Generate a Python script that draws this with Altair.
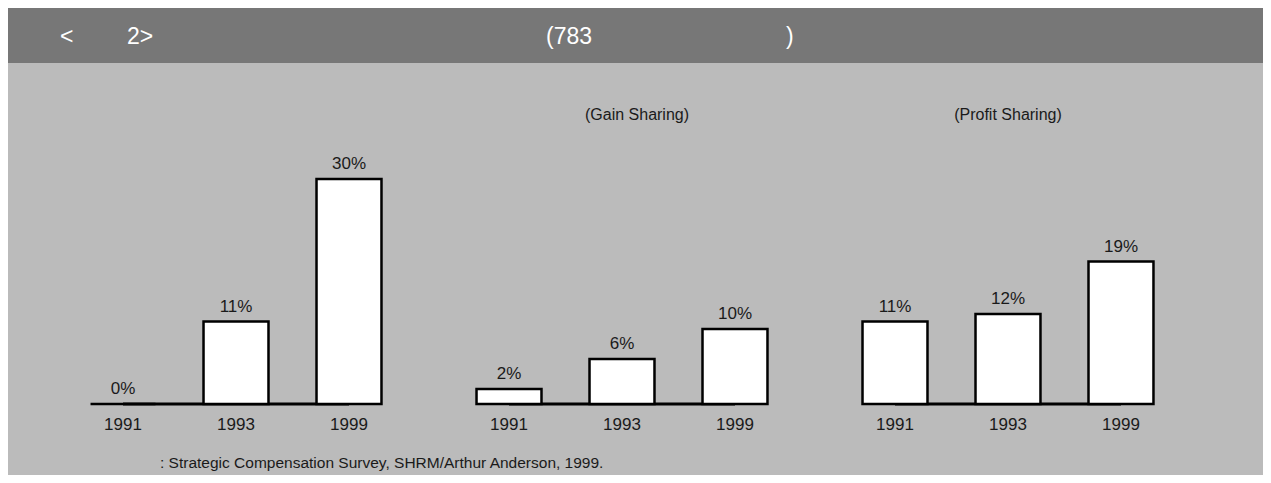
import altair as alt
import pandas as pd

# ---- data ----
panels = ["Panel1", "Gain", "Profit"]
panel_titles = ["", "(Gain Sharing)", "(Profit Sharing)"]
years = ["1991", "1993", "1999"]
panel1_values = [0, 11, 30]
gain_values = [2, 6, 10]
profit_values = [11, 12, 19]

header_left = "<"
header_num = "2>"
header_mid = "(783"
header_right = ")"
source_text = ": Strategic Compensation Survey, SHRM/Arthur Anderson, 1999."

rows = []
for p, vals in zip(panels, [panel1_values, gain_values, profit_values]):
    for y, v in zip(years, vals):
        rows.append({"panel": p, "year": y, "value": v, "label": f"{v}%", "base": 0})
df = pd.DataFrame(rows)
titles_df = pd.DataFrame({"panel": panels, "title": panel_titles})
one = pd.DataFrame({"k": [0]})

FONT = "Liberation Sans"
W, H = 1228, 396

x_enc = alt.X("panel:N", scale=alt.Scale(domain=panels, paddingInner=0.1218, paddingOuter=0.1516), axis=None)
xo_enc = alt.XOffset("year:N", scale=alt.Scale(domain=years, paddingInner=0.425, paddingOuter=0.2125))
y_scale = alt.Scale(domain=[0, 52.8], nice=False, zero=True)

header_rect = alt.Chart(one).mark_rect(color="#777777").encode(
    x=alt.value(0), x2=alt.value(1255), y=alt.value(0), y2=alt.value(55)
)

def htext(t, x):
    return alt.Chart(one).mark_text(
        text=t, color="white", font=FONT, fontSize=23, align="left", baseline="middle"
    ).encode(x=alt.value(x), y=alt.value(29))

h1 = htext(header_left, 52)
h2 = htext(header_num, 119)
h3 = htext(header_mid, 538)
h4 = htext(header_right, 778)

baseline = alt.Chart(df).mark_line(color="black", strokeWidth=3).encode(
    x=x_enc, xOffset=xo_enc,
    y=alt.Y("base:Q", scale=y_scale, axis=None),
    detail="panel:N",
)

bars = alt.Chart(df).mark_bar(fill="white", stroke="black", strokeWidth=2.5).encode(
    x=x_enc, xOffset=xo_enc,
    y=alt.Y("value:Q", scale=y_scale, axis=None),
)

labels = alt.Chart(df).mark_text(
    font=FONT, fontSize=17, color="#1a1a1a", baseline="middle", dy=-15
).encode(
    x=x_enc, xOffset=xo_enc,
    y=alt.Y("value:Q", scale=y_scale, axis=None),
    text="label:N",
)

year_labels = alt.Chart(df).mark_text(
    font=FONT, fontSize=17, color="#1a1a1a", baseline="middle"
).encode(
    x=x_enc, xOffset=xo_enc,
    y=alt.value(417),
    text="year:N",
)

def title_layer(panel, dx):
    return alt.Chart(titles_df).transform_filter(
        alt.datum.panel == panel
    ).mark_text(
        font=FONT, fontSize=16, color="#1a1a1a", baseline="middle", dx=dx
    ).encode(
        x=x_enc,
        y=alt.value(107),
        text="title:N",
    )

t2 = title_layer("Gain", 15)
t3 = title_layer("Profit", 0)

source = alt.Chart(one).mark_text(
    text=source_text, font=FONT, fontSize=15.5, color="#1a1a1a", align="left", baseline="middle"
).encode(x=alt.value(152), y=alt.value(455))

chart = alt.layer(
    header_rect, h1, h2, h3, h4, baseline, bars, labels, year_labels, t2, t3, source
).properties(
    width=W, height=H,
    autosize=alt.AutoSizeParams(type="none"),
    padding={"left": 0, "top": 0, "right": 27, "bottom": 71},
).configure(
    background="#bbbbbb", font=FONT
).configure_view(stroke=None)

chart.save("out.html", embed_options={"renderer": "svg", "actions": False})
